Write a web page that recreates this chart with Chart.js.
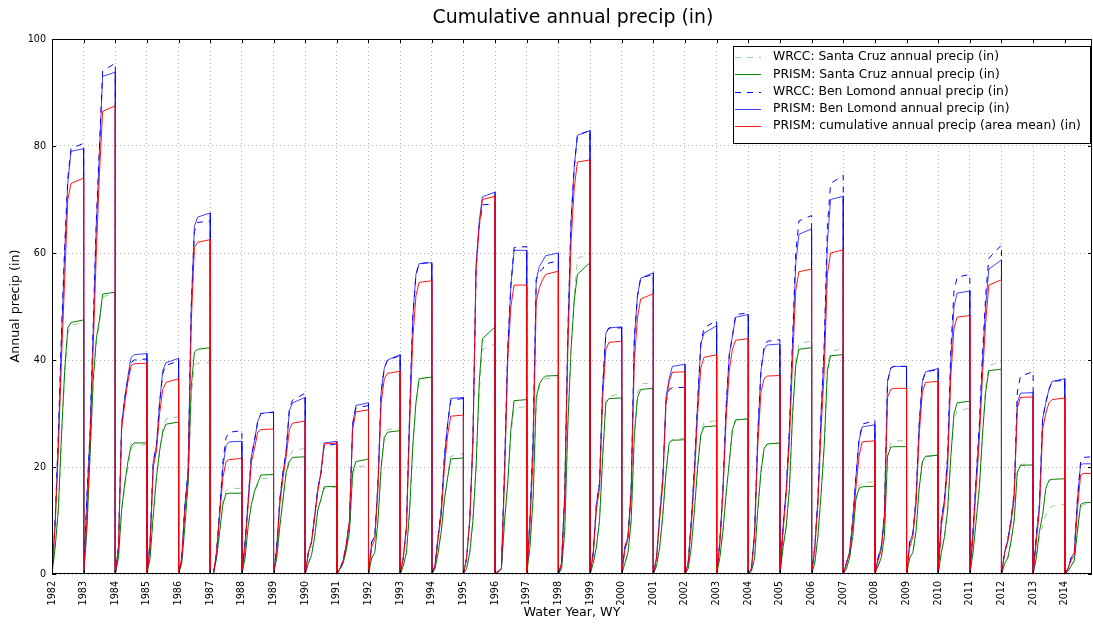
<!DOCTYPE html>
<html><head><meta charset="utf-8">
<script src="https://cdn.jsdelivr.net/npm/chart.js@4/dist/chart.umd.min.js"></script>
<style>html,body{margin:0;padding:0;background:#fff;}#wrap{width:1093px;height:626px;}</style>
</head><body><div id="wrap"><canvas id="c" width="1093" height="626"></canvas></div>
<script>
// ---- data ----
const waterYears = [1982,1983,1984,1985,1986,1987,1988,1989,1990,1991,1992,1993,1994,1995,1996,1997,1998,1999,2000,2001,2002,2003,2004,2005,2006,2007,2008,2009,2010,2011,2012,2013,2014];
const xTickLabels = waterYears.map(String);
const yTickValues = [0,20,40,60,80,100];
// sample times within each water year (fraction of year); last value of each row = end-of-year total
const sampleFractions = [0.1,0.2,0.3,0.4,0.5,0.6];
const dataEnd = 2014.86;

const wrccSantaCruz = [
[5,12,25,37,45,46.5,47],[8,21,35,43,47,51.8,52.5],[3,12,16,20,23.5,24,24.2],[3,11,18,23,27,29,29.4],
[2,9,16,33,39,39.4,39.5],[0,3,8,13.5,15.5,16,16],[3,9,13,15,16.8,17.8,18],[3,9,14,19,22,23,23.5],
[2,3.5,7,12,14,16,16.2],[1,2,4.5,8,18.5,20,20.3],[3,4,10,20,26,27,27.3],[1.5,4,12,24,32,36.5,36.8],
[1,4,8,14,18,22,22.5],[1,4,10,20,34,42,43],[0.3,1,10,17,26,31,31.3],[5,14,32,35,36,36.5,36.7],
[1,8,28,42,52,59,59.9],[2,5,10,22,32.5,33.3,33.6],[2,4,10,26,34,35.5,35.8],[1.5,5,11,19,24.5,25.2,25.4],
[1,5,12,20,26.5,28.3,28.7],[3,8,15,21,27,28.8,29],[0.5,3,12,19,23.5,24.2,24.4],[5,9,16,30,40,43,43.6],
[2,7,15,24,39,41.5,42.3],[1,3,7,14,16.5,17,17.3],[1.5,3,7,22,24.5,24.9,24.9],[3,4,8,16,21,22,22],
[4,7,12,22,29,30.5,31],[4,10,16,26,35,39,39.7],[2,3,6,10,19,20.5,20.6],[3,7,9,11,12,12.7,13],
[0.5,1.5,2.5,8,12.5,13,13.2]];

const prismSantaCruz = [
[5,12,26,38,46,47,47.5],[8,22,36,44,47.5,52.3,52.7],[3,12,17,21,24,24.5,24.5],[3,11,18,23,26.5,28,28.4],
[2,9,17,35,41.5,42,42.3],[0,3,8,13,15,15.1,15.1],[3,9,13,15.5,17,18.5,18.6],[3,9,14,19,21,21.8,21.9],
[2,3.5,7,12,14,16.3,16.4],[1,2,4.5,8,19,21,21.5],[3,4,10,20,25.5,26.5,26.8],[1.5,4,12,24,32,36.5,36.8],
[1,4,8,14,18,21.5,21.7],[1,4,10,20,36,44,46.2],[0.3,1,10,17,27,32.4,32.6],[5,14,33,35.5,36.5,37,37.1],
[1,8,28,42,51,56,58.2],[2,5,10,22,32,32.8,32.9],[2,4,10,26,33,34.5,34.7],[1.5,5,11,19,24.5,25,25.1],
[1,5,12,20,26,27.5,27.7],[3,8,15,21,27,28.8,29],[0.5,3,12,19,23.5,24.3,24.5],[5,9,16,30,39,42,42.3],
[2,7,15,24,38,40.8,41],[1,3,7,14,16,16.3,16.4],[1.5,3,7,22,23.7,23.8,23.8],[3,4,8,16,21,22,22.2],
[4,7,12,22,30,32,32.3],[4,10,16,26,34,38,38.3],[2,3,6,10,19,20.3,20.4],[3,8,11,16,17.5,17.7,17.8],
[0.5,1.5,2.5,8,13,13.3,13.4]];

const wrccBenLomond = [
[10,26,45,61,74,79.5,80.5],[14,26,46,66,80,94,95.5],[5,28,33,36.5,39.5,40,40.2],[6,21,24,32,37.5,39,39.8],
[3,13,19,50,64,65.7,66],[0,4,12,21,25.5,26.5,26.8],[6,14,22,25,28.5,30,30.2],[5,14,19,23,31,32.5,33.8],
[4,6,11,16,19,24,24.3],[1,2.5,5.5,10,28,31,31.5],[6,7,17,34,38.5,40,40.8],[3,9,30,48,56,58,58.3],
[1.5,7,12,22,28,32.5,32.8],[3,10,25,57,65,69,69.2],[0.5,1,20,42,54,61,61.2],[10,25,55,56.5,57,58,58.5],
[2,15,45,66,76,82,82.9],[4,13,17,35,45,46,46],[5,7,16,44,52,55.3,56],[3,11,18,32,34.5,34.8,34.9],
[2,10,20,32,43,46,47.4],[6,16,31,41,44.5,48.5,48.8],[1,8,26,38,42.5,43.5,43.8],[9,16,27,44,60,66,67],
[5,14,30,43,65,73,74.5],[2,4,10,18,25,28,28.7],[3,5,11,36,38.5,38.8,38.8],[6,7.5,14,28,36,37.8,38.2],
[10,14,22,42,53,55.5,56],[8,18,28,41,52,59,61.5],[4,6.5,10,15,34,37,37.8],[7,13,29,32,34.5,36,36.2],
[1,3,4,14,21,21.8,21.9]];

const prismBenLomond = [
[10,25,44,60,73,79,79.5],[14,26,45,65,79,93,93.8],[5,28,33,37,40.5,41,41.2],[6,21,24,32,38,39.5,40.3],
[3,13,19,50,65,66.7,67.5],[0,4,12,20,24,24.7,24.8],[6,14,22,25,28.5,30,30.3],[5,14,19,23,30.5,32,33],
[4,6,11,16,19,24.5,24.8],[1,2.5,5.5,10,28,31.5,32],[6,7,17,34,38.5,40,41],[3,9,30,48,56,58,58.2],
[1.5,7,12,22,28,32.8,33],[3,10,25,58,66,70.5,71.4],[0.5,1,20,42,54,60.5,60.5],[10,25,55,57.5,58.5,59.5,60],
[2,15,45,66,76,82,82.9],[4,13,17,35,45,46,46.2],[5,7,16,44,52,55.3,56.3],[3,11,18,33,36.5,38.8,39.2],
[2,10,20,32,43,45,46.4],[6,16,31,41,44.5,48,48.5],[1,8,26,38,42,42.8,43],[9,16,27,43,58,63.5,64.5],
[5,14,30,42,62,70,70.6],[2,4,10,18,25,27.5,27.9],[3,5,11,36,38.5,38.8,38.8],[6,7.5,14,28,36,37.8,38.4],
[10,14,22,40,50,52.5,52.9],[8,18,27,40,50,57,58.7],[4,6.5,10,15,32,33.8,33.9],[7,13,29,32,34.5,36,36.5],
[1,3,4,14,20.5,20.6,20.6]];

const prismAreaMean = [
[9,23,40,55,70,73,74],[10,24,42,60,75,86.5,87.5],[5,27,32,36,39,39.3,39.4],[5,20,23,30,34.5,35.8,36.5],
[3,12,18,47,61,62,62.5],[0,4,11,18,21,21.4,21.6],[5,13,21,23.5,26.5,27,27.1],[4,13,18,22,27,28.2,28.6],
[4,6,10.5,15.5,19,24.3,24.5],[1,2.5,5.5,10,27,30.3,30.7],[5,6.5,16,32,36.5,37.5,37.9],[3,8.5,28,44,52,54.5,54.8],
[1.5,6.5,11,20,26,29.5,29.7],[3,10,25,57,65,70,70.6],[0.5,1,18,40,50,54,54],[9,22,51,53.5,55,56,56.6],
[2,14,42,62,72,77,77.4],[3.5,12,16,33,42,43.3,43.5],[4.5,6.5,15,40,48,51.4,52.4],[3,10,17,32,36,37.7,37.8],
[2,9,18,30,38.5,40.5,41],[5.5,15,29,38,42,43.7,44],[1,7,24,34,36.5,37,37.1],[8,15,25,40,53,56.5,57],
[4.5,13,27,38,56,60,60.6],[2,4,9,16,22,24.7,24.9],[2.5,4.5,10,33,34.5,34.7,34.7],[5,7,13,26,34,35.8,36],
[9,13,20,37,46,48,48.3],[7,16,25,37,47,54,55],[4,6,9.5,14,31,33,33.1],[6,12,27,30,32,32.6,32.9],
[1,2.5,3.5,12,18.5,18.8,18.8]];

const seriesNames = [
 'WRCC: Santa Cruz annual precip (in)',
 'PRISM: Santa Cruz annual precip (in)',
 'WRCC: Ben Lomond annual precip (in)',
 'PRISM: Ben Lomond annual precip (in)',
 'PRISM: cumulative annual precip (area mean) (in)'];

// ---- build ----
function buildPoints(values){
  const pts=[];
  waterYears.forEach((wy,i)=>{
    const v=values[i];
    pts.push({x:wy,y:0});
    sampleFractions.forEach((f,k)=>pts.push({x:wy+f,y:v[k]}));
    pts.push({x:Math.min(wy+1,dataEnd),y:v[v.length-1]});
  });
  return pts;
}
const styles = [
 {color:'rgba(0,128,0,0.4)', dash:[6,6]},
 {color:'#008000', dash:[]},
 {color:'#0000ff', dash:[6,6]},
 {color:'rgba(0,0,255,0.75)', dash:[]},
 {color:'rgba(255,0,0,0.92)', dash:[]}];
const seriesValues = [wrccSantaCruz, prismSantaCruz, wrccBenLomond, prismBenLomond, prismAreaMean];
// draw order: red on top -> reverse index
const datasets = [];
for (let i=seriesValues.length-1;i>=0;i--){
  datasets.push({label:seriesNames[i], data:buildPoints(seriesValues[i]), borderColor:styles[i].color,
    borderDash:styles[i].dash, borderWidth:1, pointRadius:0, fill:false, tension:0});
}

const L=52, R=1092, T=39, B=574;
const FONT='"DejaVu Sans", "Liberation Sans", sans-serif';
function fitFont(ctx, text, target, base){
  ctx.font = base+'px '+FONT;
  const w = ctx.measureText(text).width;
  return base*target/w;
}

const decor = {
  id:'decor',
  afterDraw(chart){
    const ctx=chart.ctx, a=chart.chartArea;
    const xs=chart.scales.x, ys=chart.scales.y;
    ctx.save();
    ctx.strokeStyle='#000'; ctx.lineWidth=1; ctx.setLineDash([]);
    ctx.strokeRect(a.left+0.5, a.top+0.5, a.right-a.left-1, a.bottom-a.top-1);
    ctx.beginPath();
    waterYears.forEach(v=>{
      const px=Math.round(xs.getPixelForValue(v))+0.5;
      ctx.moveTo(px,a.bottom); ctx.lineTo(px,a.bottom-4);
      ctx.moveTo(px,a.top); ctx.lineTo(px,a.top+4);
    });
    yTickValues.forEach(v=>{
      const py=Math.round(ys.getPixelForValue(v))+0.5;
      ctx.moveTo(a.left,py); ctx.lineTo(a.left+4,py);
      ctx.moveTo(a.right,py); ctx.lineTo(a.right-4,py);
    });
    ctx.stroke();
    ctx.fillStyle='#000';
    let fs=fitFont(ctx,'Cumulative annual precip (in)',281,17);
    ctx.font=fs+'px '+FONT; ctx.textAlign='center'; ctx.textBaseline='middle';
    ctx.fillText('Cumulative annual precip (in)', 573, 18);
    fs=fitFont(ctx,'Water Year, WY',97,12);
    ctx.font=fs+'px '+FONT;
    ctx.fillText('Water Year, WY', 572, 613);
    ctx.save(); ctx.translate(16,306); ctx.rotate(-Math.PI/2);
    ctx.fillText('Annual precip (in)',0,0); ctx.restore();
    const lx=733, ly=46, lw=357, lh=97;
    ctx.fillStyle='#fff'; ctx.fillRect(lx,ly,lw,lh);
    ctx.strokeStyle='#000'; ctx.strokeRect(lx+0.5,ly+0.5,lw,lh);
    fs=fitFont(ctx,seriesNames[4],308,12);
    ctx.font=fs+'px '+FONT; ctx.textAlign='left'; ctx.textBaseline='middle';
    const rows=[57,74.3,91.5,108.7,125.8];
    seriesNames.forEach((n,i)=>{
      const y=rows[i];
      ctx.beginPath(); ctx.strokeStyle=styles[i].color; ctx.setLineDash(styles[i].dash);
      ctx.moveTo(735,Math.round(y)+0.5); ctx.lineTo(761,Math.round(y)+0.5); ctx.stroke();
      ctx.setLineDash([]);
      ctx.fillStyle='#000'; ctx.fillText(n,773,y);
    });
    ctx.restore();
  }
};

new Chart(document.getElementById('c'), {
  type:'line',
  data:{datasets},
  options:{
    responsive:false, animation:false, events:[], parsing:false,
    layout:{padding:{top:T,right:1093-R,left:0,bottom:0}},
    plugins:{legend:{display:false}, tooltip:{enabled:false}, title:{display:false}},
    scales:{
      x:{type:'linear', min:1982, max:dataEnd,
        afterBuildTicks:s=>{s.ticks=waterYears.map(v=>({value:v}));},
        afterFit:s=>{s.height=626-B;},
        ticks:{autoSkip:false, minRotation:90, maxRotation:90, padding:7, color:'#000',
          font:{size:9.6, family:FONT}, callback:(v,i)=>xTickLabels[i]},
        grid:{drawTicks:false, color:'rgba(0,0,0,0.3)', lineWidth:1},
        border:{display:false, dash:[1,3]}},
      y:{type:'linear', min:0, max:100,
        afterBuildTicks:s=>{s.ticks=yTickValues.map(v=>({value:v}));},
        afterFit:s=>{s.width=L;},
        ticks:{padding:6, color:'#000', font:{size:9.6, family:FONT}, callback:v=>String(v)},
        grid:{drawTicks:false, color:'rgba(0,0,0,0.3)', lineWidth:1},
        border:{display:false, dash:[1,3]}}
    }
  },
  plugins:[decor]
});
</script></body></html>
